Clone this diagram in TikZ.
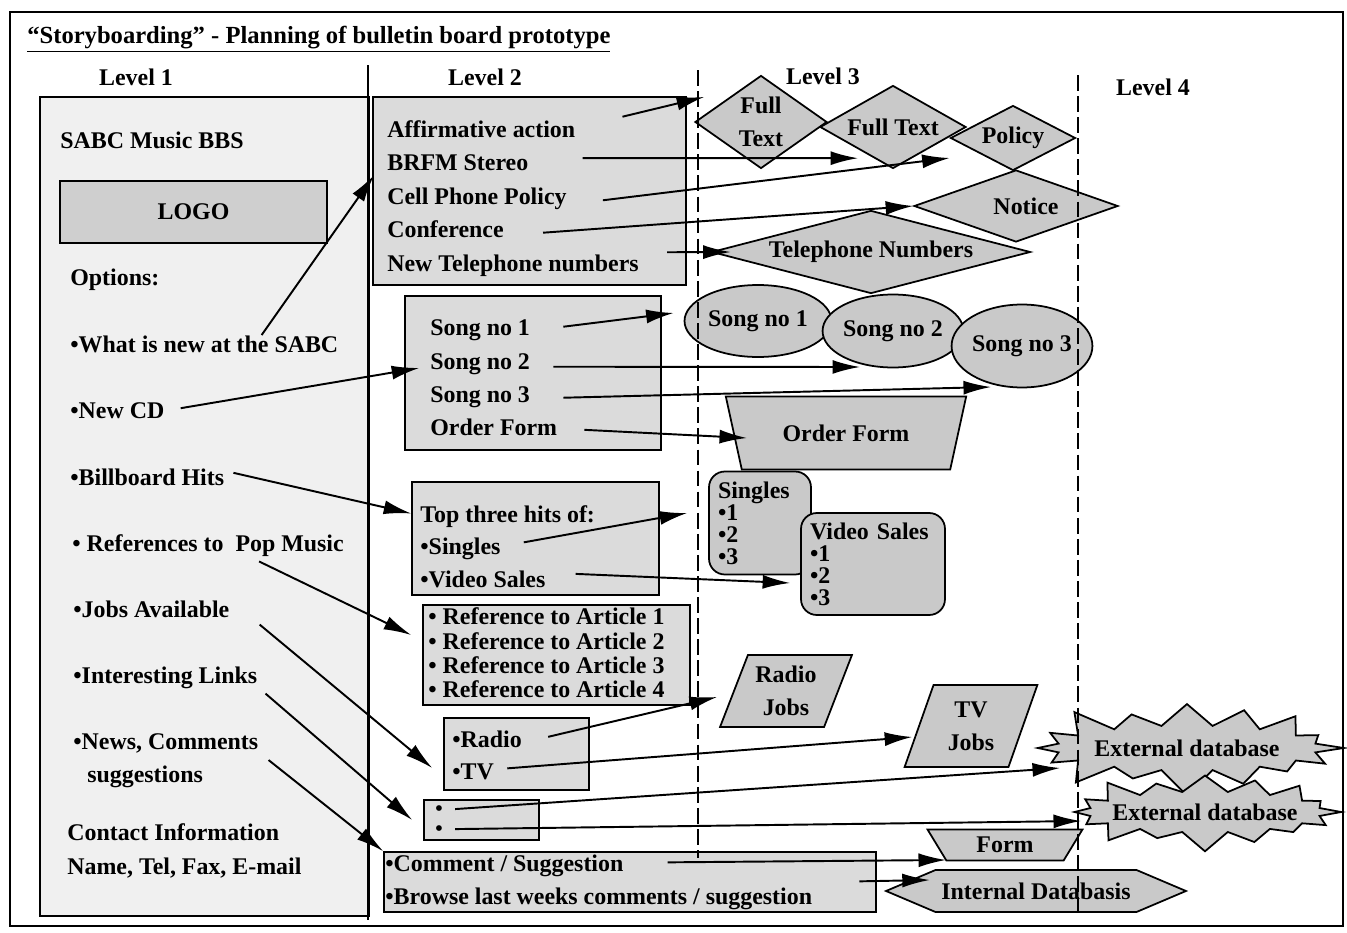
\documentclass[tikz,border=0pt]{standalone}
\usepackage{fontspec}
\setmainfont{Liberation Serif}
\usetikzlibrary{arrows.meta,positioning,fit,calc,shapes.geometric,shapes.symbols}
\newcommand{\itemfont}{\fontsize{13.6}{16}\selectfont\bfseries}
\tikzset{
  item/.style = {anchor=base west, inner sep=0pt, font=\itemfont},
  pagebox/.style = {draw, fill=gray!12, line width=0.9pt, inner sep=0pt},
  menubox/.style = {draw, fill=gray!28, line width=0.9pt, inner sep=0pt, font=\itemfont},
  lvlshape/.style = {draw, fill=gray!42, line width=1pt, inner sep=0pt, align=center, font=\itemfont},
  trans/.style = {-{Latex[length=5.5mm,width=2.8mm]}, line width=1.1pt},
  levelsep/.style = {line width=1pt, dash pattern=on 9pt off 3pt}
  }

\begin{document}
\begin{tikzpicture}[x=0.02cm,y=-0.02cm]
\useasboundingbox (0,0) rectangle (1347,933);
\draw[line width=1.2pt] (10,12) rectangle (1343,926);

\node[item, font=\fontsize{14}{16}\selectfont\bfseries] (title) at (27,43) {\underline{“Storyboarding” - Planning of bulletin board prototype}};
\node[font=\itemfont, inner sep=0pt] (lvla) at (136,77) {Level 1};
\node[font=\itemfont, inner sep=0pt] (lvlb) at (485,77) {Level 2};
\node[font=\itemfont, inner sep=0pt] (lvlc) at (823,76) {Level 3};
\node[font=\itemfont, inner sep=0pt] (lvld) at (1153,87) {Level 4};

% level 1
\node[pagebox, fit={(40,97) (369,916)}] (page) {};
\node[menubox, fill=gray!38, minimum width=5.34cm, minimum height=1.24cm] (logo) at (193.5,212) {LOGO};
\node[item] (sabc) at (60,148) {SABC Music BBS};
\node[item] (options) at (70,285) {Options:};
\node[item] (whatnew) at (70,352) {•What is new at the SABC};
\node[item] (newcd) at (70,418) {•New CD};
\node[item] (billboard) at (70,485) {•Billboard Hits};
\node[item] (refpop) at (72,551) {• References to\ \ Pop Music};
\node[item] (jobs) at (73,617) {•Jobs Available};
\node[item] (links) at (73,683) {•Interesting Links};
\node[item] (news) at (73,749) {•News, Comments};
\node[item] (newsb) at (87,782) {suggestions};
\node[item] (contact) at (67,840) {Contact Information};
\node[item] (contactb) at (67,874) {Name, Tel, Fax, E-mail};

% level 2
\node[menubox, fit={(373,97) (686,285)}] (boxA) {};
\node[menubox, fit={(405,296) (661,450)}] (boxB) {};
\node[menubox, fit={(412,482) (659,595)}] (boxC) {};
\node[menubox, fit={(423,605) (690,705)}] (boxD) {};
\node[menubox, fit={(444,718) (589,790)}] (boxE) {};
\node[menubox, fit={(424,800) (539,840)}] (boxF) {};
\node[menubox, fit={(384,852) (876,912)}] (boxG) {};

\node[item] (affirm) at (387,137) {Affirmative action};
\node[item] (brfm) at (387,170) {BRFM Stereo};
\node[item] (cell) at (387,204) {Cell Phone Policy};
\node[item] (conf) at (387,237) {Conference};
\node[item] (newtel) at (387,271) {New Telephone numbers};

\node[item] (songtxta) at (430,335) {Song no 1};
\node[item] (songtxtb) at (430,369) {Song no 2};
\node[item] (songtxtc) at (430,402) {Song no 3};
\node[item] (ordertxt) at (430,435) {Order Form};

\node[item] (tophits) at (420,522) {Top three hits of:};
\node[item] (singlestxt) at (420,554) {•Singles};
\node[item] (videotxt) at (420,587) {•Video Sales};

\node[item] (arta) at (428,624) {• Reference to Article 1};
\node[item] (artb) at (428,649) {• Reference to Article 2};
\node[item] (artc) at (428,673) {• Reference to Article 3};
\node[item] (artd) at (428,697) {• Reference to Article 4};

\node[item] (radiotxt) at (452,747) {•Radio};
\node[item] (tvtxt) at (452,779) {•TV};

\node[item, font=\fontsize{12}{13}\selectfont\bfseries] (bulleta) at (435,815) {•};
\node[item, font=\fontsize{12}{13}\selectfont\bfseries] (bulletb) at (435,835) {•};

\node[item] (commenttxt) at (385,871) {•Comment / Suggestion};
\node[item] (browsetxt) at (385,904) {•Browse last weeks comments / suggestion};

% level 3 and 4
\node[lvlshape, diamond, aspect=1.4, minimum width=2.64cm, minimum height=1.86cm,
  font=\fontsize{13.6}{19}\selectfont\bfseries] (fulltexta) at (761,122) {Full\\Text};
\node[lvlshape, diamond, aspect=1.76, minimum width=2.92cm, minimum height=1.66cm] (fulltextb) at (893,127) {Full Text};
\node[lvlshape, diamond, aspect=1.9, minimum width=2.5cm, minimum height=1.3cm] (policy) at (1013,138) {Policy};
\node[lvlshape, diamond, aspect=2.8, minimum width=4.08cm, minimum height=1.44cm] (notice) at (1016,206) {\hspace*{0.4cm}Notice};
\node[lvlshape, diamond, aspect=3.8, minimum width=6.38cm, minimum height=1.66cm] (telnum) at (871,252) {Telephone Numbers};

\node[lvlshape, ellipse, minimum width=2.94cm, minimum height=1.44cm] (songa) at (758,321) {Song no 1};
\node[lvlshape, ellipse, minimum width=2.64cm, minimum height=1.46cm] (songb) at (893,331) {Song no 2};
\node[lvlshape, ellipse, minimum width=2.5cm, minimum height=1.66cm] (songc) at (1022,346) {Song no 3};

\node[lvlshape, trapezium, trapezium stretches=true, shape border rotate=180,
  minimum width=4.82cm, minimum height=1.46cm] (ordershape) at (846,433) {Order Form};

\node[lvlshape, rounded corners=9pt, align=left, inner xsep=0.18cm, text width=1.68cm,
  minimum height=2.06cm, font=\fontsize{13.6}{12.5}\selectfont\bfseries] (singlesbox) at (760,523) {Singles\\•1\\•2\\•3};
\node[lvlshape, rounded corners=9pt, align=left, inner xsep=0.18cm, text width=2.52cm,
  minimum height=2.04cm, font=\fontsize{13.6}{12.5}\selectfont\bfseries] (videobox) at (873,564) {Video Sales\\•1\\•2\\•3};

\node[lvlshape, trapezium, trapezium left angle=66, trapezium right angle=114, trapezium stretches=true,
  minimum width=2.64cm, minimum height=1.44cm, font=\fontsize{13.6}{19}\selectfont\bfseries] (radiojobs) at (786,691) {Radio\\Jobs};
\node[lvlshape, trapezium, trapezium left angle=70, trapezium right angle=110, trapezium stretches=true,
  minimum width=2.66cm, minimum height=1.64cm, font=\fontsize{13.6}{19}\selectfont\bfseries] (tvjobs) at (971,726) {TV\\Jobs};

\node[lvlshape, starburst, starburst points=16, starburst point height=0.6cm,
  inner xsep=0pt, inner ysep=0.15cm] (extdba) at (1187,748) {External database};
\node[lvlshape, starburst, starburst points=16, starburst point height=0.45cm,
  inner xsep=-0.2cm, inner ysep=0.12cm] (extdbb) at (1205,812) {External database};

\node[lvlshape, trapezium, trapezium stretches=true, shape border rotate=180,
  minimum width=3.1cm, minimum height=0.62cm] (formshape) at (1005,845) {Form};
\node[lvlshape, signal, signal to=west and east, signal pointer angle=46,
  minimum width=6cm, minimum height=0.84cm] (intdb) at (1036,891) {Internal Databasis};

% level separators
\draw[line width=1pt] (368,65) -- (368,920);
\draw[levelsep] (698,70) -- (698,858);
\draw[levelsep] (1078,75) -- (1078,918);

% level 1 to level 2
\draw[trans] ($(whatnew.north east)+(-77,0)$) -- ($(boxA.west)+(2,-16)$);
\draw[trans] ($(newcd.east)+(16,-2)$) -- ($(boxB.west)+(15,-5)$);
\draw[trans] ($(billboard.east)+(9,-4)$) -- ($(boxC.west)+(0,-25)$);
\draw[trans] ($(refpop.south east)+(-85,5)$) -- ($(boxD.west)+(-11,-20)$);
\draw[trans] ($(jobs.south east)+(30,7)$) -- ($(boxE.west)+(-11,14)$);
\draw[trans] ($(links.south east)+(8,5)$) -- ($(boxF.west)+(-11,0)$);
\draw[trans] ($(news.south east)+(10,7)$) -- (boxG.north west);

% level 2 to level 3
\draw[trans] ($(affirm.east)+(47,-12)$) -- ($(fulltexta.west)+(10,-25)$);
\draw[trans] ($(brfm.east)+(54,-4)$) -- ($(fulltextb.south west)+(2,10)$);
\draw[trans] ($(cell.east)+(36,2)$) -- ($(policy.west)+(0,20)$);
\draw[trans] ($(conf.east)+(39,4)$) -- (notice.west);
\draw[trans] ($(newtel.east)+(28,-13)$) -- ($(telnum.west)+(20,0)$);

\draw[trans] ($(songtxta.east)+(33,-3)$) -- ($(songa.west)+(-10,-8)$);
\draw[trans] ($(songtxtb.east)+(23,3)$) -- ($(songb.center)+(-33,36)$);
\draw[trans] ($(songtxtc.east)+(33,1)$) -- ($(songc.center)+(-31,41)$);
\draw[trans] ($(ordertxt.east)+(27,3)$) -- ($(ordershape.center)+(-99,5)$);

\draw[trans] ($(singlestxt.east)+(23,-6)$) -- ($(singlesbox.west)+(-21,-10)$);
\draw[trans] ($(videotxt.east)+(30,-5)$) -- ($(videobox.west)+(-10,19)$);

\draw[trans] ($(radiotxt.east)+(26,-2)$) -- ($(radiojobs.west)+(-16,6)$);
\draw[trans] ($(tvtxt.east)+(13,-3)$) -- ($(tvjobs.west)+(-6,11)$);
\draw[trans] ($(bulleta.east)+(12,-1)$) -- ($(extdba.center)+(-127,20)$);
\draw[trans] ($(bulletb.east)+(12,-1)$) -- ($(extdbb.center)+(-124,9)$);

\draw[trans] ($(commenttxt.east)+(44,-3)$) -- ($(formshape.center)+(-59,15)$);
\draw[trans] ($(browsetxt.east)+(47,-17)$) -- ($(intdb.west)+(46,-11)$);
\end{tikzpicture}
\end{document}
